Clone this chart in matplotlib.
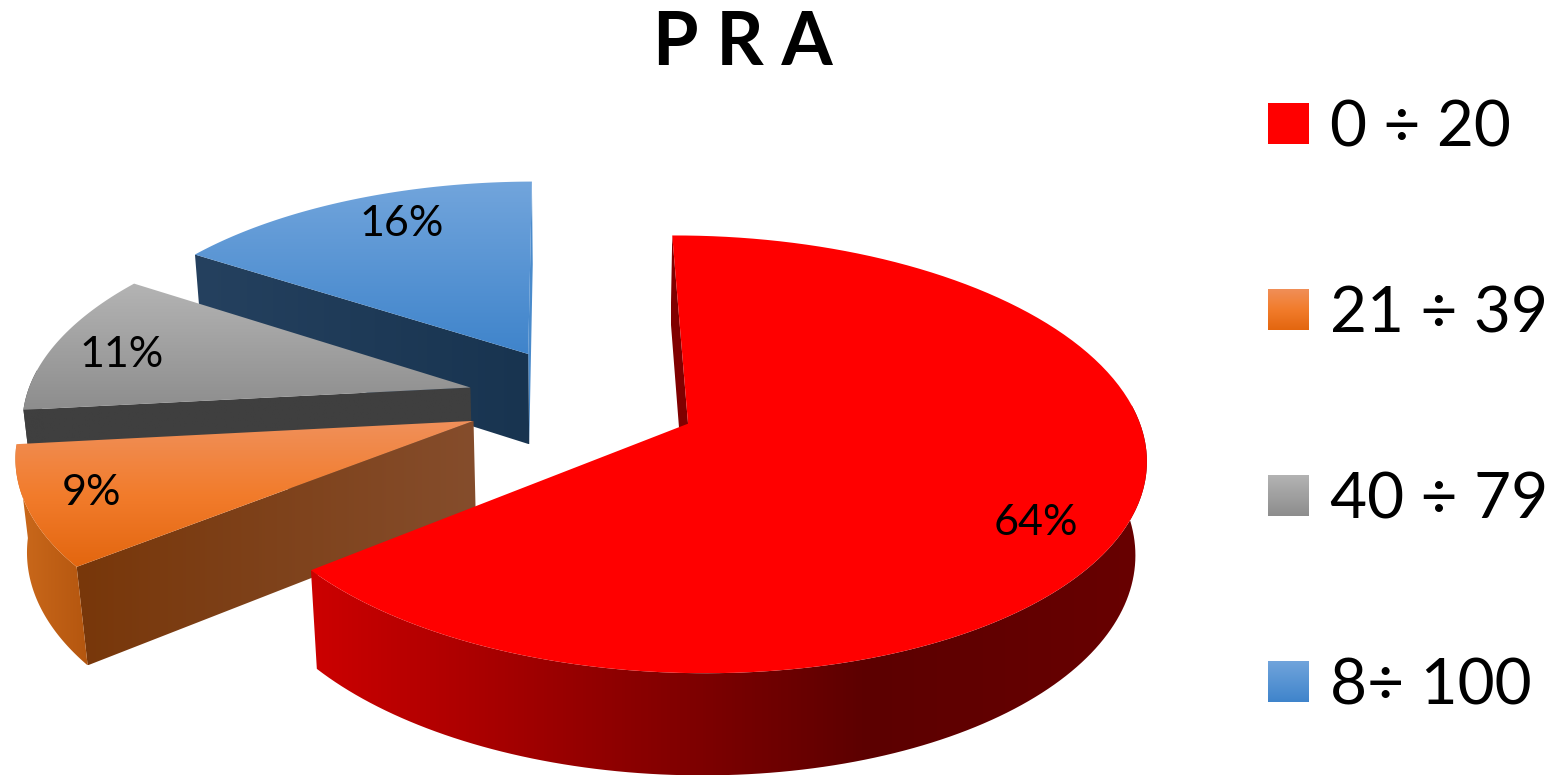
import matplotlib
matplotlib.use('Agg')
import matplotlib.pyplot as plt
import numpy as np
from matplotlib.colors import LinearSegmentedColormap
from matplotlib.patches import Polygon

plt.rcParams['font.family'] = ['Lato', 'DejaVu Sans']

title = 'P R A'
labels = ['0 ÷ 20', '21 ÷ 39', '40 ÷ 79', '8÷ 100']
# slice sizes as they look in the picture, the labels round them
values = [64.4, 9.0, 10.9, 15.7]

# top face colours (vertical gradient)
top_colors = [['#ff0000', '#ff0000'], ['#f0905a', '#f27c2c', '#e3660f'],
              ['#b4b4b4', '#8d8d8d'], ['#72a5dc', '#3f84cb']]
# side colours (horizontal gradient, left to right)
rim_colors = [['#cc0000', '#930000', '#5c0000', '#680000'], ['#cc6a1c', '#b4560f'],
              ['#3f3f3f', '#3f3f3f'], ['#3f7fc0', '#3f7fc0']]
cut_colors = [['#800000', '#800000'], ['#78370a', '#854d2c'],
              ['#3f3f3f', '#3f3f3f'], ['#25415f', '#183450']]
end_colors = [['#800000', '#800000'], ['#78370a', '#854d2c'],
              ['#3f3f3f', '#3f3f3f'], ['#4a8bcc', '#4a8bcc']]

# projection of the tilted pie into pixels
cx, cy = 582, 400
a, b = 445, 208
k = 0.138
m = 0.02
depth = 94
explode = 0.26
first_angle = -0.4
label_r = [0.83, 0.86, 0.83, 0.80]
label_dth = [6, 0.5, -2, 4]

fig = plt.figure(figsize=(15.55, 7.76), dpi=100)
ax = fig.add_axes([0, 0, 1, 1])
z = [1]


def project(x, y, h=0.0):
    s = 1 / (1 - k * y + m * h)
    return np.column_stack([cx + a * x * s, cy + (b * y + depth * h) * s])


def fill_grad(verts, colors, vertical):
    verts = np.asarray(verts)
    x0, y0 = verts.min(axis=0)
    x1, y1 = verts.max(axis=0)
    cmap = LinearSegmentedColormap.from_list('g', colors)
    g = np.linspace(0, 1, 256)
    g = g[:, None] if vertical else g[None, :]
    poly = Polygon(verts, closed=True, transform=ax.transData, fc='none', ec='none')
    ax.add_patch(poly)
    im = ax.imshow(g, cmap=cmap, extent=[x0, x1, y1, y0], aspect='auto',
                   interpolation='bilinear', zorder=z[0])
    im.set_clip_path(poly)
    z[0] += 1


def area(p):
    x, y = p[:, 0], p[:, 1]
    return np.sum(x * np.roll(y, -1) - np.roll(x, -1) * y)


shares = np.array(values) / sum(values) * 360
ends = first_angle + np.cumsum(shares)
starts = ends - shares

# far slices first, the red one last
for i in [3, 2, 1, 0]:
    t0, t1 = starts[i], ends[i]
    mid = np.radians((t0 + t1) / 2)
    ox, oy = explode * np.sin(mid), -explode * np.cos(mid)
    th = np.radians(np.linspace(t0, t1, 120))
    ax_x, ax_y = ox + np.sin(th), oy - np.cos(th)
    apex_t = project(np.array([ox]), np.array([oy]))
    apex_b = project(np.array([ox]), np.array([oy]), 1)
    arc_t = project(ax_x, ax_y)

    # the cut faces, only if they look towards us
    q0 = np.vstack([apex_t, project(ax_x[:1], ax_y[:1]), project(ax_x[:1], ax_y[:1], 1), apex_b])
    q1 = np.vstack([apex_t, project(ax_x[-1:], ax_y[-1:]), project(ax_x[-1:], ax_y[-1:], 1), apex_b])
    if area(q1) > 0:
        fill_grad(q1, end_colors[i], False)
    if area(q0) < 0:
        fill_grad(q0, cut_colors[i], False)

    # outer rim, front part only
    r0, r1 = max(t0, 85), min(t1, 275)
    if r1 > r0:
        rth = np.radians(np.linspace(r0, r1, 120))
        rx, ry = ox + np.sin(rth), oy - np.cos(rth)
        fill_grad(np.vstack([project(rx, ry), project(rx, ry, 1)[::-1]]), rim_colors[i], False)

    fill_grad(np.vstack([apex_t, arc_t]), top_colors[i], True)

    lab = np.radians((t0 + t1) / 2 + label_dth[i])
    p = project(np.array([ox + label_r[i] * np.sin(lab)]), np.array([oy - label_r[i] * np.cos(lab)]))[0]
    ax.text(p[0], p[1], f'{round(values[i])}%', fontsize=31, ha='center', va='center', color='black', zorder=100)

# legend
for i, lab in enumerate(labels):
    yc = 123.5 + 186 * i
    fill_grad([[1268, yc - 21], [1309, yc - 21], [1309, yc + 21], [1268, yc + 21]], top_colors[i], True)
    ax.text(1330, yc + 23, lab, fontsize=46, ha='left', va='baseline', color='black')

ax.text(743, 65, title, fontsize=53, fontweight='bold', ha='center', va='baseline', color='black')

ax.set_xlim(0, 1555)
ax.set_ylim(776, 0)
ax.axis('off')
fig.savefig('out.png', dpi=100, facecolor='white')
